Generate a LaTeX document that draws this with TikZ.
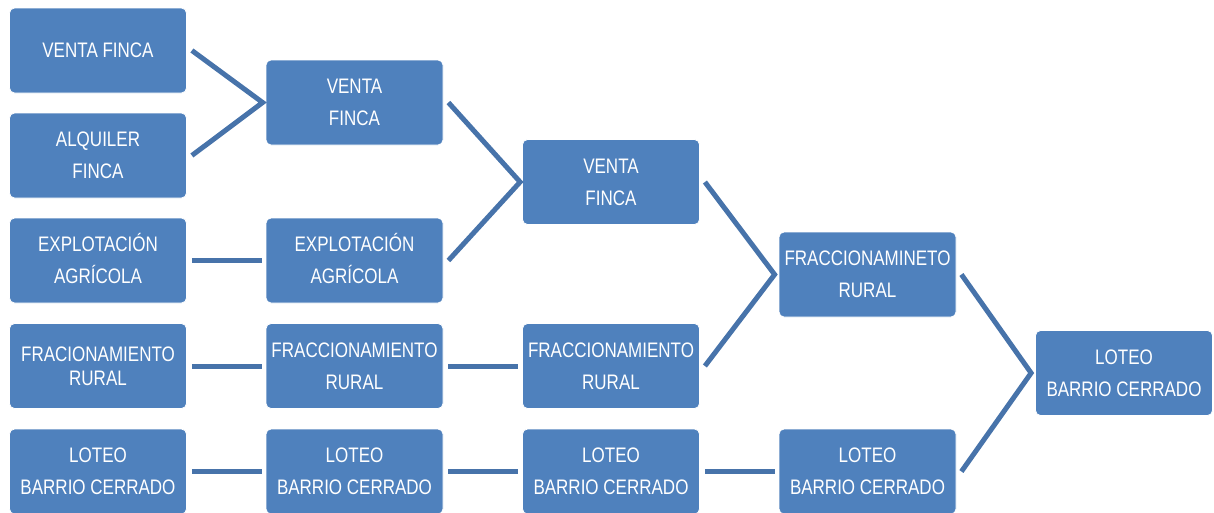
\documentclass[tikz,border=0pt]{standalone}
\usepackage{fontspec}
\newfontfamily\narrowfont[FakeStretch=0.81]{Liberation Sans}
\definecolor{boxblue}{HTML}{4F81BD}
\definecolor{lineblue}{HTML}{4773AA}
\tikzset{
  stagebox/.style={rectangle, rounded corners=5pt, fill=boxblue, draw=white, line width=0.8pt,
    minimum width=177pt, minimum height=85pt, inner sep=0pt, align=center, text=white,
    font=\narrowfont\fontsize{21}{32}\selectfont},
  link/.style={draw=lineblue, line width=5pt}
}
\begin{document}
\begin{tikzpicture}[x=1pt,y=-1pt]
\useasboundingbox (0,0) rectangle (1214,512);
% column 1
\node[stagebox] (a1) at (98,50.5) {VENTA FINCA};
\node[stagebox] (a2) at (98,155.5) {ALQUILER\\FINCA};
\node[stagebox] (a3) at (98,260.5) {EXPLOTACI\smash{Ó}N\\AGR\smash{Í}COLA};
\node[stagebox, font=\narrowfont\fontsize{21}{24}\selectfont] (a4) at (98,366) {FRACIONAMIENTO\\RURAL};
\node[stagebox] (a5) at (98,471.5) {LOTEO\\BARRIO CERRADO};
% column 2
\node[stagebox] (b1) at (354.5,102.5) {VENTA\\FINCA};
\node[stagebox] (b3) at (354.5,260.5) {EXPLOTACI\smash{Ó}N\\AGR\smash{Í}COLA};
\node[stagebox] (b4) at (354.5,366) {FRACCIONAMIENTO\\RURAL};
\node[stagebox] (b5) at (354.5,471.5) {LOTEO\\BARRIO CERRADO};
% column 3
\node[stagebox] (c1) at (611,182) {VENTA\\FINCA};
\node[stagebox] (c4) at (611,366) {FRACCIONAMIENTO\\RURAL};
\node[stagebox] (c5) at (611,471.5) {LOTEO\\BARRIO CERRADO};
% column 4
\node[stagebox] (d1) at (867.5,274.5) {FRACCIONAMINETO\\RURAL};
\node[stagebox] (d5) at (867.5,471.5) {LOTEO\\BARRIO CERRADO};
% column 5
\node[stagebox] (e1) at (1124,373) {LOTEO\\BARRIO CERRADO};
% bracket connectors
\draw[link] ([xshift=5pt]a1.east) -- ([xshift=-3pt]b1.west) -- ([xshift=5pt]a2.east);
\draw[link] ([xshift=5pt]b1.east) -- ([xshift=-2pt]c1.west) -- ([xshift=5pt]b3.east);
\draw[link] ([xshift=5pt]c1.east) -- ([xshift=-4pt]d1.west) -- ([xshift=5pt]c4.east);
\draw[link] ([xshift=5pt]d1.east) -- ([xshift=-4pt]e1.west) -- ([xshift=5pt]d5.east);
% straight connectors
\draw[link] ([xshift=5pt]a3.east) -- ([xshift=-4pt]b3.west);
\draw[link] ([xshift=5pt]a4.east) -- ([xshift=-4pt]b4.west);
\draw[link] ([xshift=5pt]b4.east) -- ([xshift=-4pt]c4.west);
\draw[link] ([xshift=5pt]a5.east) -- ([xshift=-4pt]b5.west);
\draw[link] ([xshift=5pt]b5.east) -- ([xshift=-4pt]c5.west);
\draw[link] ([xshift=5pt]c5.east) -- ([xshift=-4pt]d5.west);
\end{tikzpicture}
\end{document}
